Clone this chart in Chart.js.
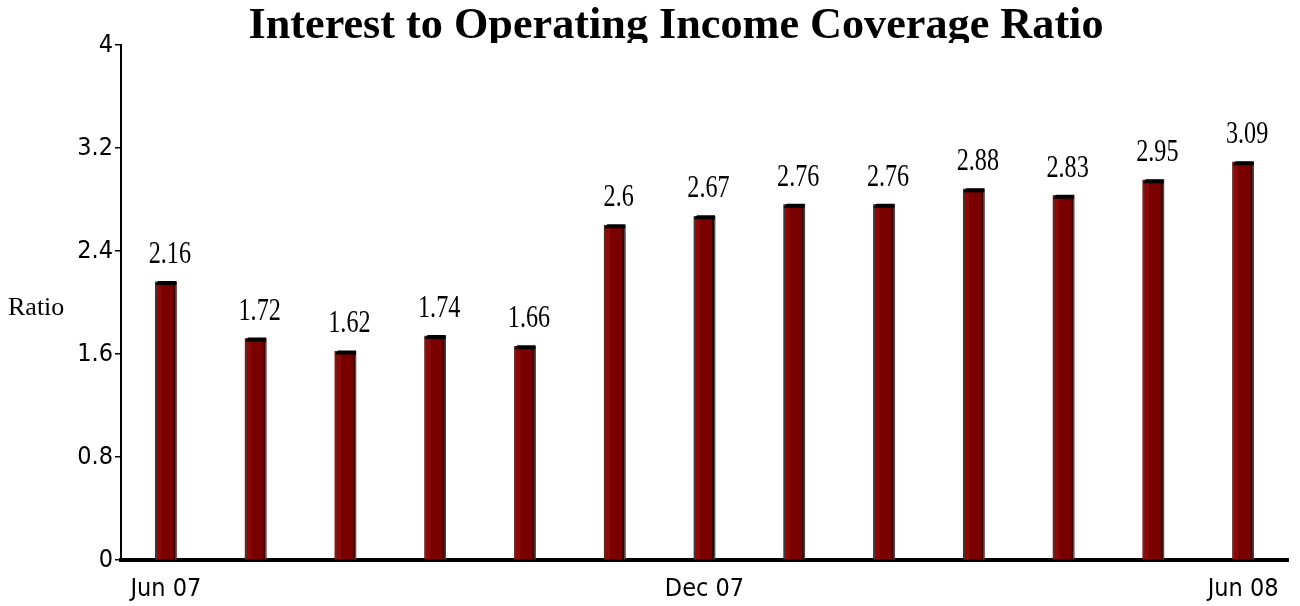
<!DOCTYPE html>
<html>
<head>
<meta charset="utf-8">
<script src="https://cdn.jsdelivr.net/npm/chart.js@4.4.0/dist/chart.umd.min.js"></script>
<style>
	html, body { margin: 0; padding: 0; background: #fff; }
	#wrap { width: 1300px; height: 606px; position: relative; }
</style>
</head>
<body>
<div id="wrap"><canvas id="chart"></canvas></div>
<script>
const months = [ 'Jun 07', 'Jul 07', 'Aug 07', 'Sep 07', 'Oct 07', 'Nov 07', 'Dec 07', 'Jan 08', 'Feb 08', 'Mar 08', 'Apr 08', 'May 08', 'Jun 08' ];
const shownLabels = [ 'Jun 07', 'Dec 07', 'Jun 08' ];
const ratio = [ 2.16, 1.72, 1.62, 1.74, 1.66, 2.6, 2.67, 2.76, 2.76, 2.88, 2.83, 2.95, 3.09 ];
const yTicks = [ 0, 0.8, 1.6, 2.4, 3.2, 4 ];
const yTickLabels = [ '0', '0.8', '1.6', '2.4', '3.2', '4' ];
const titleText = 'Interest to Operating Income Coverage Ratio';
const yTitle = 'Ratio';

const sansNarrow = '"Liberation Sans Narrow", "DejaVu Sans Condensed", "Liberation Sans", sans-serif';
const serif = '"Liberation Serif", "DejaVu Serif", serif';

// title, axis title, 3d caps and value labels
const decor = {
	id: 'decor',
	afterDatasetsDraw( chart ) {
		const ctx = chart.ctx;
		const meta = chart.getDatasetMeta( 0 );
		ctx.save();
		meta.data.forEach( ( bar, i ) => {
			const w = bar.width;
			const l = bar.x - w / 2;
			const r = bar.x + w / 2;
			const top = bar.y;
			const base = bar.base;
			// outline and slightly lighter left half
			ctx.fillStyle = '#8a0a0a';
			ctx.fillRect( l + 1, top, 5, base - top );
			ctx.fillStyle = '#3c3c3c';
			ctx.fillRect( l, top, 1.5, base - top );
			ctx.fillStyle = '#3a0000';
			ctx.fillRect( r - 3, top, 2, base - top );
			ctx.fillStyle = '#555';
			ctx.fillRect( r - 1, top, 1, base - top );
			// top cap
			ctx.fillStyle = '#000';
			ctx.beginPath();
			ctx.moveTo( l, top + 3 );
			ctx.lineTo( l + 3, top - 1 );
			ctx.lineTo( r, top - 1 );
			ctx.lineTo( r, top + 3 );
			ctx.closePath();
			ctx.fill();
			// value label
			ctx.fillStyle = '#000';
			ctx.font = '31px ' + serif;
			ctx.textAlign = 'center';
			ctx.textBaseline = 'alphabetic';
			ctx.save();
			ctx.translate( bar.x + 4, top - 19 );
			ctx.scale( 0.78, 1 );
			ctx.fillText( String( ratio[ i ] ), 0, 0 );
			ctx.restore();
		} );
		ctx.restore();
	},
	afterDraw( chart ) {
		const ctx = chart.ctx;
		ctx.save();
		// title, clipped at the top of the plot like the original
		ctx.beginPath();
		ctx.rect( 0, 0, chart.width, 43 );
		ctx.clip();
		ctx.fillStyle = '#000';
		ctx.font = 'bold 44px ' + serif;
		ctx.textAlign = 'center';
		ctx.textBaseline = 'alphabetic';
		const tw = ctx.measureText( titleText ).width;
		ctx.translate( 676, 38 );
		ctx.scale( 855 / tw, 1 );
		ctx.fillText( titleText, 0, 0 );
		ctx.restore();

		ctx.save();
		ctx.fillStyle = '#000';
		ctx.font = '26px ' + serif;
		ctx.textAlign = 'left';
		ctx.textBaseline = 'middle';
		ctx.fillText( yTitle, 8, 308 );
		ctx.restore();
	},
};

new Chart( document.getElementById( 'chart' ), {
	type: 'bar',
	data: {
		labels: months,
		datasets: [
			{
				data: ratio,
				backgroundColor: '#7a0000',
				borderWidth: 0,
				barThickness: 21,
			},
		],
	},
	options: {
		responsive: true,
		maintainAspectRatio: false,
		animation: false,
		layout: {
			padding: { top: 45, right: 12, left: 0, bottom: 0 },
		},
		plugins: {
			legend: { display: false },
			tooltip: { enabled: false },
			title: { display: false },
		},
		scales: {
			x: {
				offset: true,
				grid: { display: false, drawTicks: false },
				border: { display: true, color: '#000', width: 4 },
				ticks: {
					autoSkip: false,
					maxRotation: 0,
					padding: 14,
					color: '#000',
					font: { family: sansNarrow, size: 25 },
					callback: ( v, i ) => ( shownLabels.includes( months[ i ] ) ? months[ i ] : '' ),
				},
				afterFit: ( scale ) => { scale.height = 46; },
			},
			y: {
				min: 0,
				max: 4,
				afterBuildTicks: ( scale ) => {
					scale.ticks = yTicks.map( ( v ) => ( { value: v } ) );
				},
				grid: {
					drawOnChartArea: false,
					drawTicks: true,
					tickLength: 6,
					color: '#000',
					lineWidth: 1.5,
				},
				border: { display: true, color: '#000', width: 2 },
				ticks: {
					padding: 2,
					color: '#000',
					font: { family: sansNarrow, size: 25 },
					callback: ( v ) => yTickLabels[ yTicks.indexOf( v ) ],
				},
				afterFit: ( scale ) => { scale.width = 121; },
			},
		},
	},
	plugins: [ decor ],
} );
</script>
</body>
</html>
